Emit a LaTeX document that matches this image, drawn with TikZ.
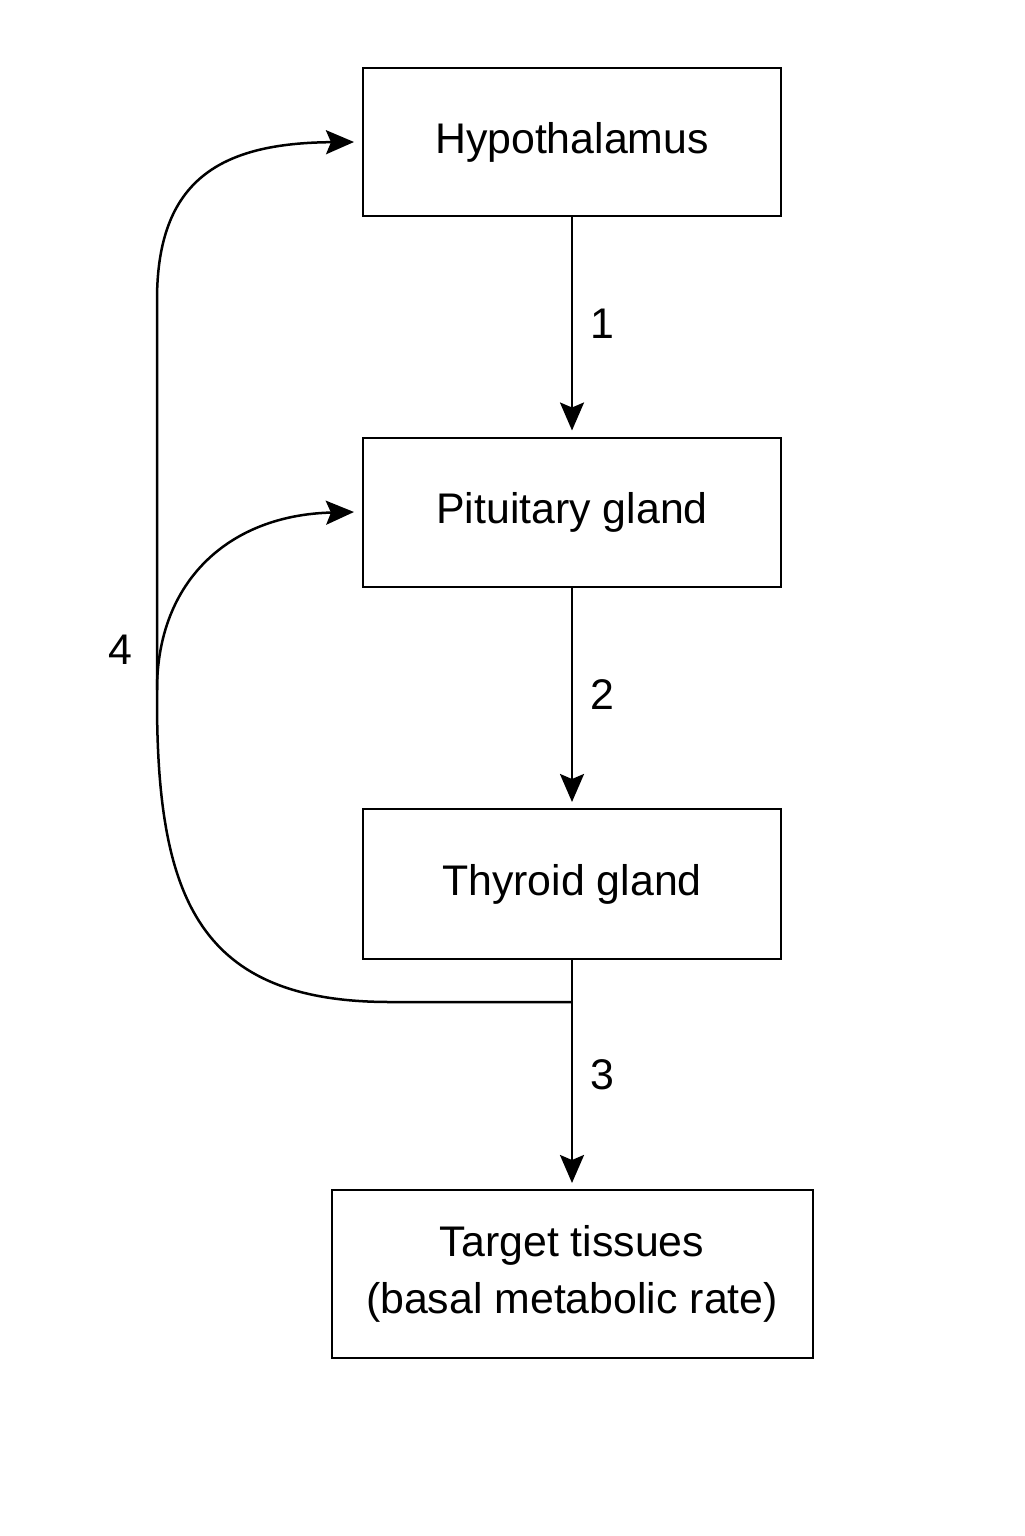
\documentclass[tikz,border=0pt]{standalone}
\usepackage{fontspec}
\setmainfont{Liberation Sans}
\usetikzlibrary{arrows.meta}
\begin{document}
\begin{tikzpicture}[x=1bp,y=-1bp,
  box/.style={draw,line width=2bp,align=center,font=\fontsize{43}{57}\selectfont,inner sep=0pt},
  lab/.style={font=\fontsize{43}{50}\selectfont},
  arr/.style={line width=2.5bp,-{Stealth[length=28bp,width=24bp,inset=5bp]}}]
\useasboundingbox[fill=white] (0,0) rectangle (1024,1536);
\node[box,minimum width=418bp,minimum height=148bp] (h) at (572,142) {Hypothalamus};
\node[box,minimum width=418bp,minimum height=149bp] (p) at (572,512) {Pituitary gland};
\node[box,minimum width=418bp,minimum height=150bp] (t) at (572,884) {Thyroid gland};
\node[box,minimum width=481bp,minimum height=168bp] (g) at (572,1274) {Target tissues\\(basal metabolic rate)};
\draw[arr] (h.south) -- node[lab,right=14bp]{1} ([yshift=6bp]p.north);
\draw[arr] (p.south) -- node[lab,right=14bp]{2} ([yshift=6bp]t.north);
\coordinate (j) at (572,1002);
\draw[arr] (t.south) -- (j) -- node[lab,right=14bp,pos=0.4]{3} ([yshift=6bp]g.north);
\coordinate (k) at (157,690);
\draw[arr] (j) -- (390,1002) .. controls (200,1002) and (157,900) .. (157,700) -- (157,300) .. controls (157,180) and (220,143) .. ([xshift=-8bp]h.west);
\draw[arr] (k) .. controls (157,580) and (230,515) .. ([xshift=-8bp]p.west);
\node[lab] (four) at (120,650) {4};
\end{tikzpicture}
\end{document}
